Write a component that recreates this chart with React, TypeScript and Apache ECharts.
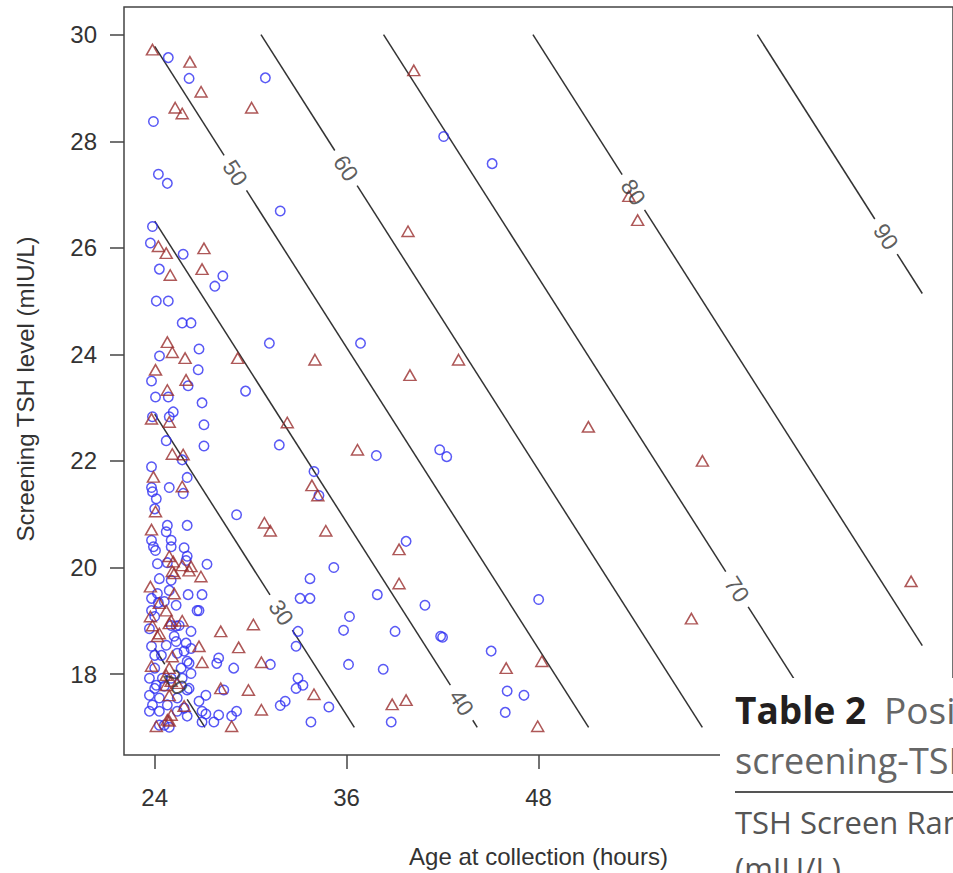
import React, { useEffect, useRef } from "react";
import * as echarts from "echarts";

const xTicks = [24, 36, 48];
const yTicks = [18, 20, 22, 24, 26, 28, 30];

// [age at collection (h), screening TSH (mIU/L)]
const circlePoints: number[][] = [
  [24.85, 29.57], [26.15, 29.18], [30.92, 29.19], [23.92, 28.37], [24.23, 27.38], [24.79, 27.21],
  [31.85, 26.69], [42.07, 28.09], [45.1, 27.58], [23.86, 26.4], [23.73, 26.09], [25.78, 25.88],
  [24.29, 25.6], [27.76, 25.28], [28.26, 25.47], [24.1, 25.0], [24.85, 25.0], [25.72, 24.59],
  [26.27, 24.59], [24.3, 23.97], [26.77, 24.1], [36.87, 24.21], [31.17, 24.21], [26.72, 23.71],
  [23.8, 23.5], [26.09, 23.41], [24.05, 23.2], [24.85, 23.2], [26.96, 23.09], [29.68, 23.31],
  [25.16, 22.92], [23.86, 22.83], [24.91, 22.83], [24.72, 22.38], [27.08, 22.68], [27.08, 22.28],
  [31.79, 22.3], [25.72, 22.02], [23.8, 21.89], [26.03, 21.69], [23.8, 21.5], [23.86, 21.42],
  [24.1, 21.29], [24.91, 21.5], [25.78, 21.39], [33.96, 21.8], [34.27, 21.35], [24.0, 21.1],
  [29.12, 20.99], [24.79, 20.79], [26.03, 20.79], [24.72, 20.67], [23.8, 20.51], [23.92, 20.39],
  [24.05, 20.32], [25.03, 20.51], [25.03, 20.39], [25.84, 20.37], [26.03, 20.21], [25.96, 20.13],
  [24.17, 20.07], [24.79, 20.09], [27.27, 20.06], [24.29, 19.79], [33.71, 19.79], [24.17, 19.51],
  [26.09, 19.49], [26.96, 19.49], [33.09, 19.42], [33.71, 19.42], [25.03, 19.76], [24.23, 19.34],
  [23.8, 19.19], [26.77, 19.19], [24.0, 19.08], [25.53, 18.91], [25.34, 18.9], [26.27, 18.8],
  [32.96, 18.8], [32.84, 18.52], [23.8, 18.52], [25.34, 18.61], [25.96, 18.58], [26.27, 18.48],
  [24.0, 18.35], [26.15, 18.2], [28.0, 18.3], [27.88, 18.2], [28.94, 18.11], [31.23, 18.18],
  [25.65, 18.11], [26.27, 18.01], [32.96, 17.92], [33.27, 17.79], [32.84, 17.73], [23.67, 17.92],
  [24.1, 17.79], [24.48, 17.92], [28.32, 17.7], [26.03, 17.7], [27.2, 17.6], [26.77, 17.49],
  [23.67, 17.3], [26.96, 17.3], [28.0, 17.23], [28.81, 17.21], [29.12, 17.3], [31.85, 17.41],
  [32.16, 17.49], [24.91, 17.0], [24.29, 17.04], [26.96, 17.1], [27.7, 17.1], [33.77, 17.1],
  [37.92, 19.49], [40.9, 19.29], [36.18, 19.08], [35.81, 18.82], [39.03, 18.8], [41.88, 18.71],
  [42.0, 18.69], [48.01, 19.4], [45.04, 18.43], [36.12, 18.18], [38.29, 18.09], [34.89, 17.38],
  [38.79, 17.1], [46.04, 17.68], [47.09, 17.6], [45.92, 17.28], [37.86, 22.1], [41.82, 22.21],
  [42.26, 22.08], [39.72, 20.49], [35.2, 20.0],
  [24.91, 19.57], [23.8, 19.42], [24.6, 19.36], [25.34, 19.29], [26.65, 19.19], [23.67, 18.85],
  [25.03, 18.91], [25.22, 18.71], [24.72, 18.54], [24.42, 18.35], [25.41, 18.39], [25.84, 18.43],
  [26.03, 18.24], [24.0, 18.11], [25.03, 17.92], [25.72, 17.92], [24.0, 17.73], [24.6, 17.77],
  [26.15, 17.73], [23.67, 17.6], [24.29, 17.55], [25.41, 17.55], [23.86, 17.42], [24.79, 17.42],
  [25.84, 17.36], [24.29, 17.3], [25.41, 17.3], [27.2, 17.25], [26.03, 17.21], [24.6, 17.04]
];

const trianglePoints: number[][] = [
  [23.86, 29.72], [26.2, 29.49], [25.28, 28.63], [25.72, 28.52], [26.9, 28.93], [30.06, 28.63],
  [40.2, 29.33], [39.84, 26.31], [54.2, 26.52], [53.65, 26.97], [27.08, 25.99], [26.96, 25.6],
  [24.23, 26.03], [24.72, 25.9], [24.97, 25.49], [24.79, 24.23], [25.1, 24.04], [25.9, 23.93],
  [29.19, 23.93], [34.02, 23.9], [24.05, 23.71], [25.96, 23.52], [24.79, 23.33], [23.8, 22.79],
  [24.91, 22.73], [32.29, 22.72], [39.96, 23.61], [43.0, 23.9], [51.12, 22.64], [58.25, 22.0],
  [25.1, 22.13], [25.78, 22.12], [23.92, 21.7], [25.72, 21.52], [33.83, 21.54], [34.2, 21.35],
  [24.05, 21.05], [30.86, 20.84], [31.23, 20.69], [34.7, 20.69], [23.8, 20.71], [24.91, 20.21],
  [25.16, 20.11], [25.72, 20.04], [26.27, 20.02], [25.1, 19.93], [26.89, 19.83], [23.73, 19.64],
  [25.22, 19.51], [24.72, 19.19], [23.73, 19.08], [25.03, 19.0], [25.72, 19.0], [23.86, 18.91],
  [24.17, 18.71], [28.13, 18.8], [30.17, 18.93], [26.77, 18.52], [29.25, 18.5], [25.1, 18.33],
  [26.96, 18.22], [30.67, 18.22], [23.8, 18.15], [24.72, 17.98], [25.03, 17.87], [28.13, 17.73],
  [29.86, 17.7], [33.96, 17.62], [25.84, 17.4], [30.67, 17.33], [24.1, 17.02], [24.91, 17.12],
  [28.81, 17.02], [36.68, 22.21], [39.28, 19.7], [39.28, 20.34], [38.85, 17.43], [39.72, 17.51],
  [45.98, 18.11], [48.21, 18.24], [47.95, 17.02], [57.56, 19.04], [71.3, 19.74],
  [25.22, 19.89], [26.15, 19.94], [24.29, 19.33], [24.91, 18.95], [24.29, 18.76], [24.91, 18.11],
  [25.41, 17.83], [24.72, 17.79], [24.91, 17.6], [24.79, 17.14], [25.03, 17.23]
];

// contour lines (percentile levels): TSH at 24 h and common slope per hour
const contourLevels = [20, 30, 40, 50, 60, 70, 80, 90];
const contourTshAt24h = [18.48, 22.88, 26.5, 29.78, 33.13, 36.74, 41.14, 47.75];
const contourSlope = -0.471;
const contourLabelAge = [25.33, 31.91, 43.19, 29.04, 35.96, 60.41, 53.93, 69.73];

const AX = "#444";
const TXT = "#333";
const FONT = "'Liberation Sans', Arial, sans-serif";

export default function App() {
  const ref = useRef<HTMLDivElement>(null);
  useEffect(() => {
    const chart = echarts.init(ref.current as HTMLDivElement, null, { renderer: "svg" });
    const ageMin = 24, ageMax = 72, tshMin = 17, tshMax = 30, gap = 0.7;
    const segs: any[] = [];
    const labels: any[] = [];
    contourLevels.forEach((lv, i) => {
      const f = (x: number) => contourTshAt24h[i] + contourSlope * (x - 24);
      const xAtY = (y: number) => 24 + (y - contourTshAt24h[i]) / contourSlope;
      const x0 = Math.max(ageMin, xAtY(tshMax));
      const x1 = Math.min(ageMax, xAtY(tshMin));
      const lx = contourLabelAge[i];
      const a = lx - gap, b = lx + gap;
      if (a > x0) segs.push({ coords: [[x0, f(x0)], [a, f(a)]] });
      if (b < x1) segs.push({ coords: [[b, f(b)], [x1, f(x1)]] });
      labels.push({ name: String(lv), value: [lx, f(lx)] });
    });

    chart.setOption({
      animation: false,
      backgroundColor: "#fff",
      grid: {
        left: 124, top: 7, width: 837, height: 750,
        show: true, borderColor: AX, borderWidth: 1.5, backgroundColor: "transparent"
      },
      xAxis: {
        type: "value", min: 22.08, max: 73.92,
        name: "Age at collection (hours)", nameLocation: "middle", nameGap: 89,
        nameTextStyle: { fontSize: 24, color: TXT, fontFamily: FONT },
        axisLine: { show: false },
        axisTick: { show: true, length: 14, lineStyle: { color: AX, width: 1.5 }, customValues: xTicks },
        axisLabel: { fontSize: 24, color: TXT, fontFamily: FONT, margin: 30, customValues: xTicks },
        splitLine: { show: false }
      },
      yAxis: {
        type: "value", min: 16.48, max: 30.52,
        name: "Screening TSH level (mIU/L)", nameLocation: "middle", nameGap: 87,
        nameTextStyle: { fontSize: 24, color: TXT, fontFamily: FONT, padding: [0, 16, 0, 0] },
        axisLine: { show: false },
        axisTick: { show: true, length: 14, lineStyle: { color: AX, width: 1.5 }, customValues: yTicks },
        axisLabel: { fontSize: 24, color: TXT, fontFamily: FONT, margin: 27, customValues: yTicks },
        splitLine: { show: false }
      },
      series: [
        {
          type: "scatter", data: circlePoints, symbol: "circle", symbolSize: 9.5,
          itemStyle: { color: "transparent", borderColor: "#2f2ff2", borderWidth: 1.5 }
        },
        {
          type: "scatter", data: trianglePoints, symbol: "triangle", symbolSize: [12, 10.5],
          itemStyle: { color: "transparent", borderColor: "#9a2e2e", borderWidth: 1.5 }
        },
        {
          type: "lines", coordinateSystem: "cartesian2d", polyline: false, data: segs,
          lineStyle: { color: "#333", width: 1.5, opacity: 1 }, silent: true
        },
        {
          type: "scatter", data: labels, symbol: "circle", symbolSize: 1,
          itemStyle: { color: "transparent" },
          label: {
            show: true, formatter: "{b}", position: "inside", rotate: -57,
            fontSize: 23, color: "#333", fontFamily: FONT
          }
        }
      ],
      graphic: [
        { type: "rect", z: 100, shape: { x: 720, y: 678, width: 240, height: 200 }, style: { fill: "#fff" } },
        { type: "text", z: 101, x: 735, y: 709, style: { text: "Table 2", font: "bold 37px 'Open Sans'", fill: "#231f20", verticalAlign: "middle" } },
        { type: "text", z: 101, x: 884, y: 709, style: { text: "Posi", font: "37px 'Open Sans'", fill: "#666", verticalAlign: "middle" } },
        { type: "text", z: 101, x: 735, y: 760, style: { text: "screening-TSH", font: "36px 'Open Sans'", fill: "#666", verticalAlign: "middle" } },
        { type: "line", z: 101, shape: { x1: 735, y1: 792, x2: 960, y2: 792 }, style: { stroke: "#555", lineWidth: 2 } },
        { type: "text", z: 101, x: 735, y: 822, style: { text: "TSH Screen Ran", font: "31px 'Open Sans'", fill: "#555", verticalAlign: "middle" } },
        { type: "text", z: 101, x: 735, y: 868, style: { text: "(mIU/L)", font: "31px 'Open Sans'", fill: "#555", verticalAlign: "middle" } }
      ]
    });
    return () => chart.dispose();
  }, []);
  return <div ref={ref} style={{ position: "absolute", left: 0, top: 0, width: 953, height: 873 }} />;
}
